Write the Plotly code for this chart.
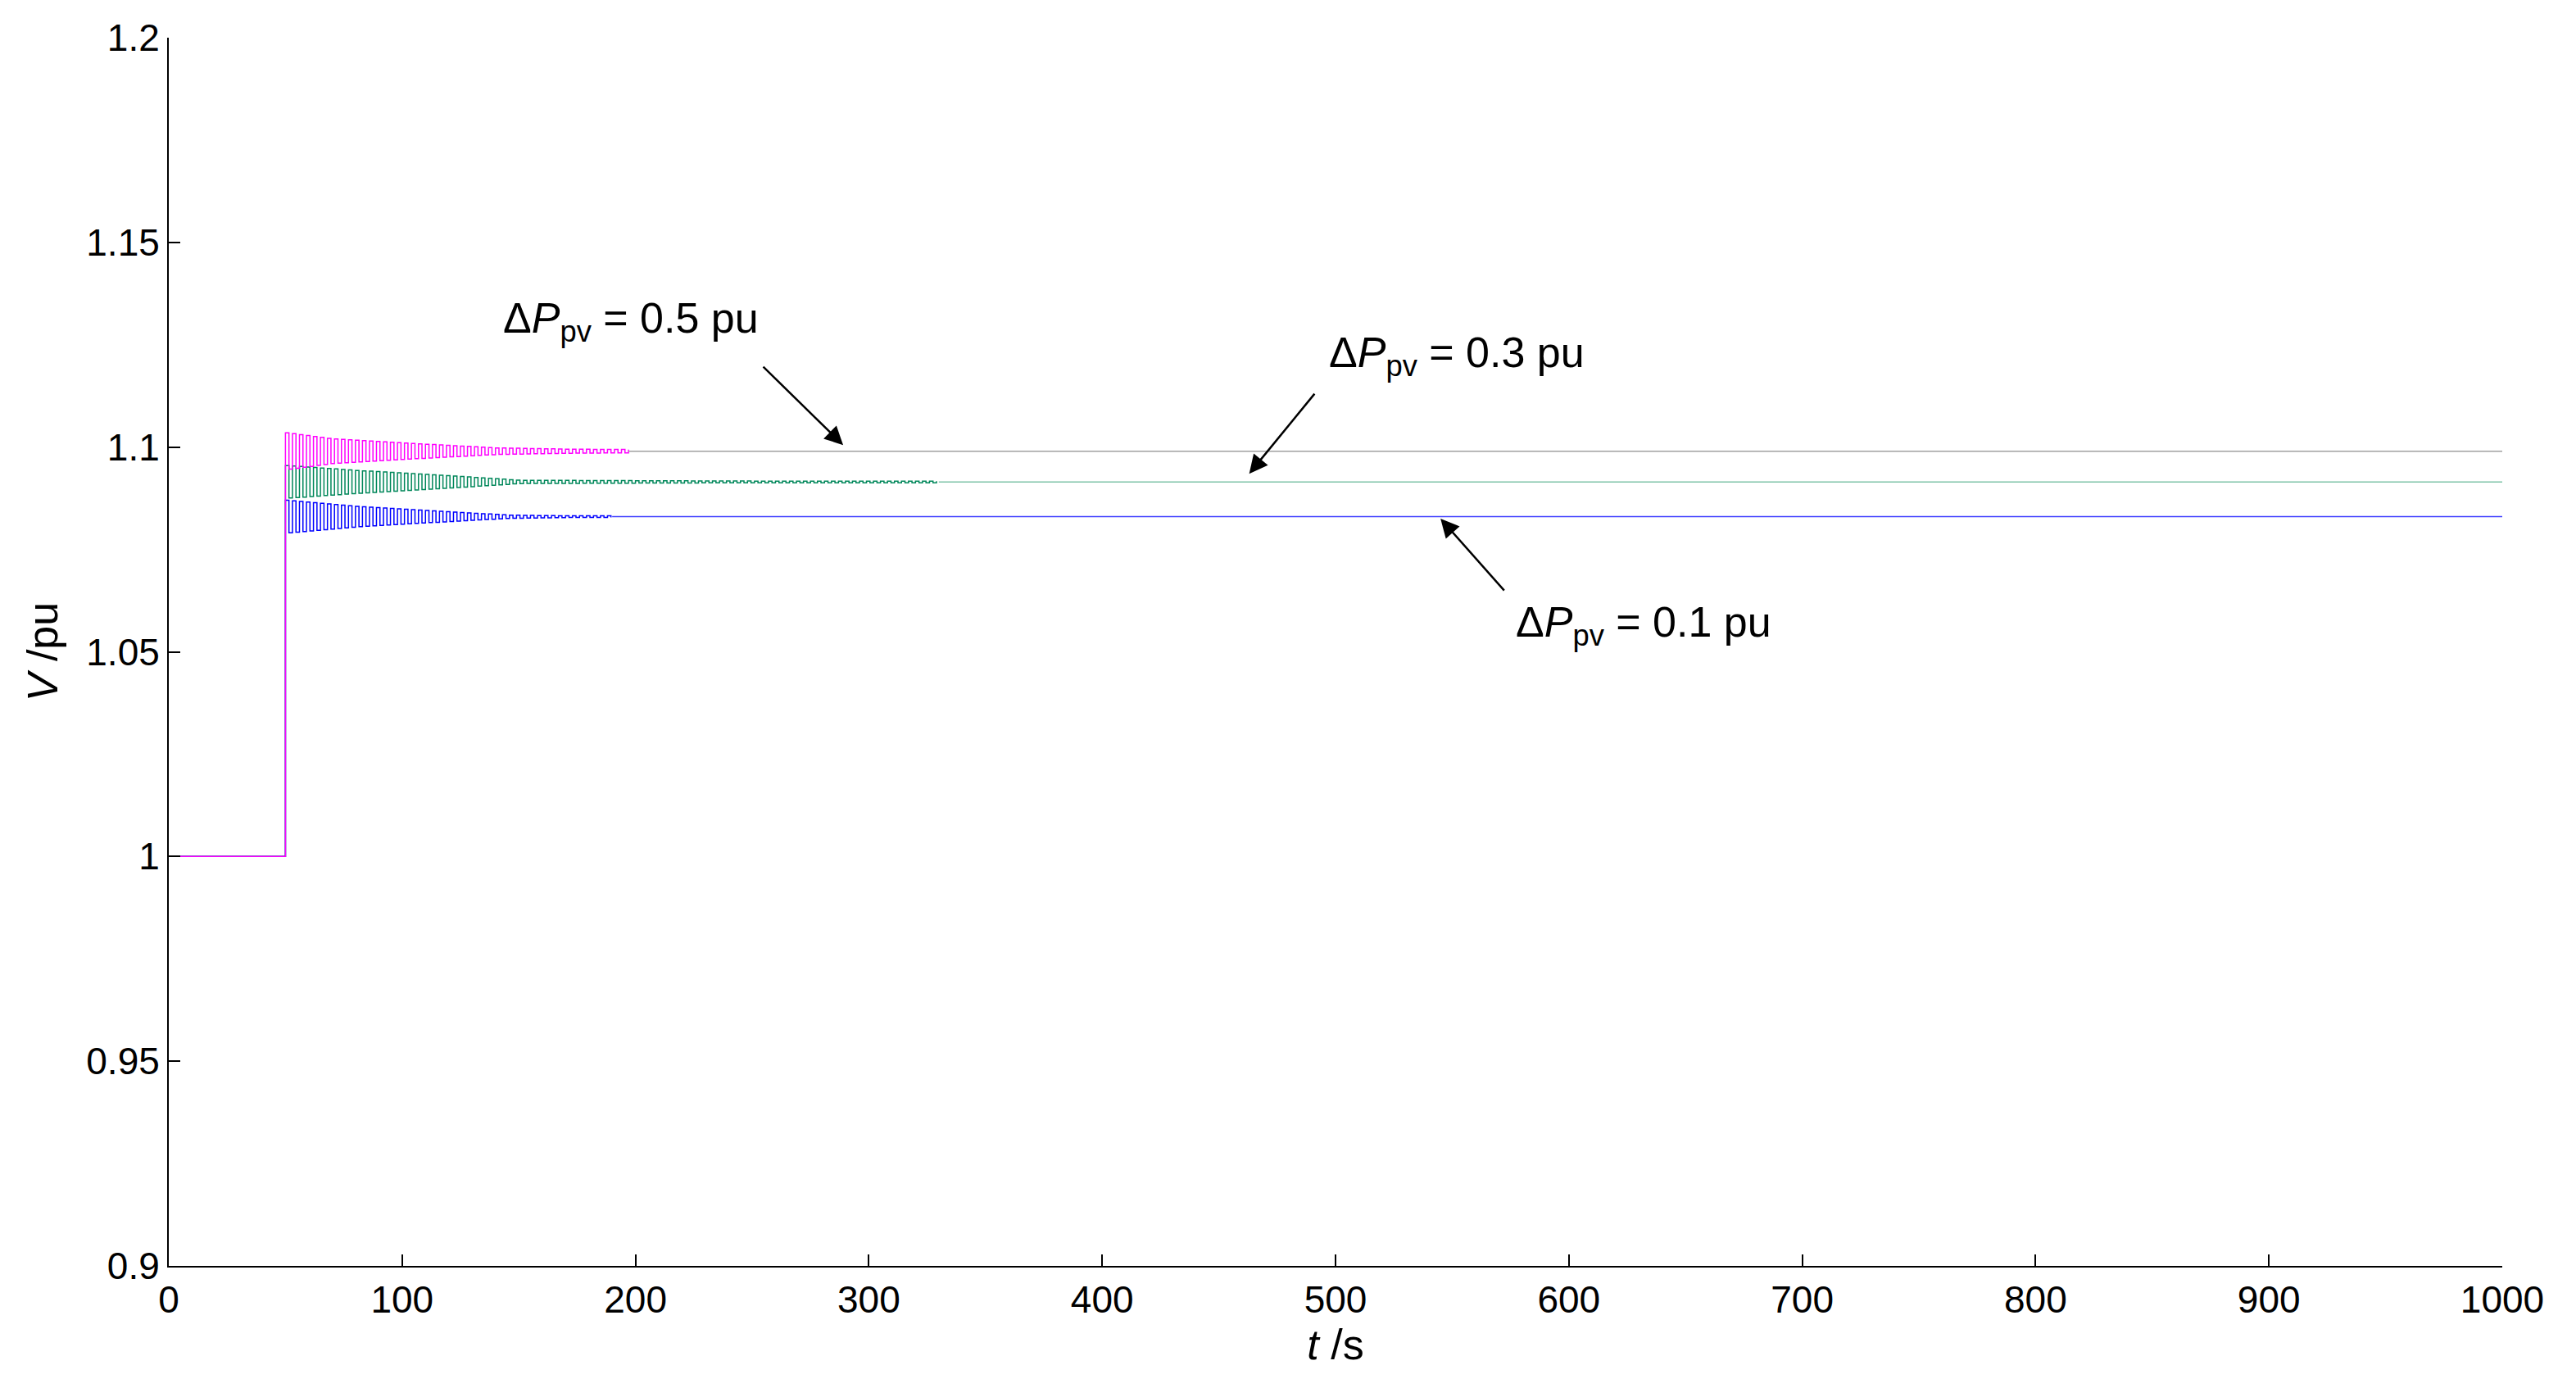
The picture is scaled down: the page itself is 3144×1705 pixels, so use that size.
import numpy as np
import plotly.graph_objects as go

# steady-state voltages (pu)
labels = ["0.1", "0.3", "0.5"]
colors = ["#0000ff", "#00875a", "#ff00ff"]
tail_colors = ["#4040ff", "#7fc4a8", "#a0a0a0"]
v_final = [1.083, 1.0915, 1.099]
# oscillation envelope (half peak-to-peak, pu) at read times (s)
env_t = [[50, 80, 110, 145, 170, 190],
         [50, 80, 120, 150, 250, 330],
         [50, 70, 100, 140, 170, 197]]
env_a = [[0.0040, 0.0025, 0.0015, 0.0004, 0.0002, 0.0002],
         [0.0040, 0.0028, 0.0015, 0.0004, 0.0002, 0.0002],
         [0.0045, 0.0030, 0.0020, 0.0008, 0.0005, 0.0004]]
step_t = 50
period = 3.0
v0 = 1.0

fig = go.Figure()
for i in range(3):
    t_osc = np.arange(step_t, env_t[i][-1] + 1e-9, period / 2)
    amp = np.interp(t_osc, env_t[i], env_a[i])
    sign = np.where(np.arange(len(t_osc)) % 2 == 0, 1, -1)
    tt = np.concatenate([[0, step_t], np.repeat(t_osc, 2)[1:]])
    vv_osc = np.repeat(v_final[i] + sign * amp, 2)[:-1]
    vv = np.concatenate([[v0, v0], vv_osc])
    fig.add_trace(go.Scatter(x=tt, y=vv, mode="lines", line=dict(color=colors[i], width=1.5),
                             showlegend=False))
    fig.add_trace(go.Scatter(x=[env_t[i][-1], 1000], y=[v_final[i], v_final[i]], mode="lines",
                             line=dict(color=tail_colors[i], width=1.5), showlegend=False))

fnt = dict(family="Arial, Liberation Sans", size=52, color="black")
ann = [
    (198, 1.1307, 289, 1.1005, -99, -97, "0.5"),
    (552, 1.1223, 463, 1.0935, 81, -99, "0.3"),
    (632, 1.0566, 545, 1.0825, 79, 89, "0.1"),
]
for tx, ty, hx, hy, ax, ay, lab in ann:
    fig.add_annotation(x=hx, y=hy, ax=ax, ay=ay, text="", showarrow=True,
                       arrowhead=2, arrowsize=1.8, arrowwidth=2.5, arrowcolor="black")
    fig.add_annotation(x=tx, y=ty, text="Δ<i>P</i><sub>pv</sub> = %s pu" % lab,
                       showarrow=False, font=fnt)

axis_common = dict(showline=True, linecolor="black", linewidth=2, ticks="inside",
                   ticklen=14, tickwidth=2, tickcolor="black", showgrid=False,
                   zeroline=False, tickfont=dict(family="Arial, Liberation Sans", size=46, color="black"))
fig.update_xaxes(range=[0, 1000], dtick=100, title=dict(text="<i>t</i> /s", font=fnt, standoff=8),
                 **axis_common)
fig.update_yaxes(range=[0.9, 1.2], dtick=0.05, title=dict(text="<i>V</i> /pu", font=fnt, standoff=18),
                 **axis_common)
fig.update_layout(width=3144, height=1705, plot_bgcolor="white", paper_bgcolor="white",
                  margin=dict(l=198, r=98, t=36, b=168))
fig.write_html("out.html")
